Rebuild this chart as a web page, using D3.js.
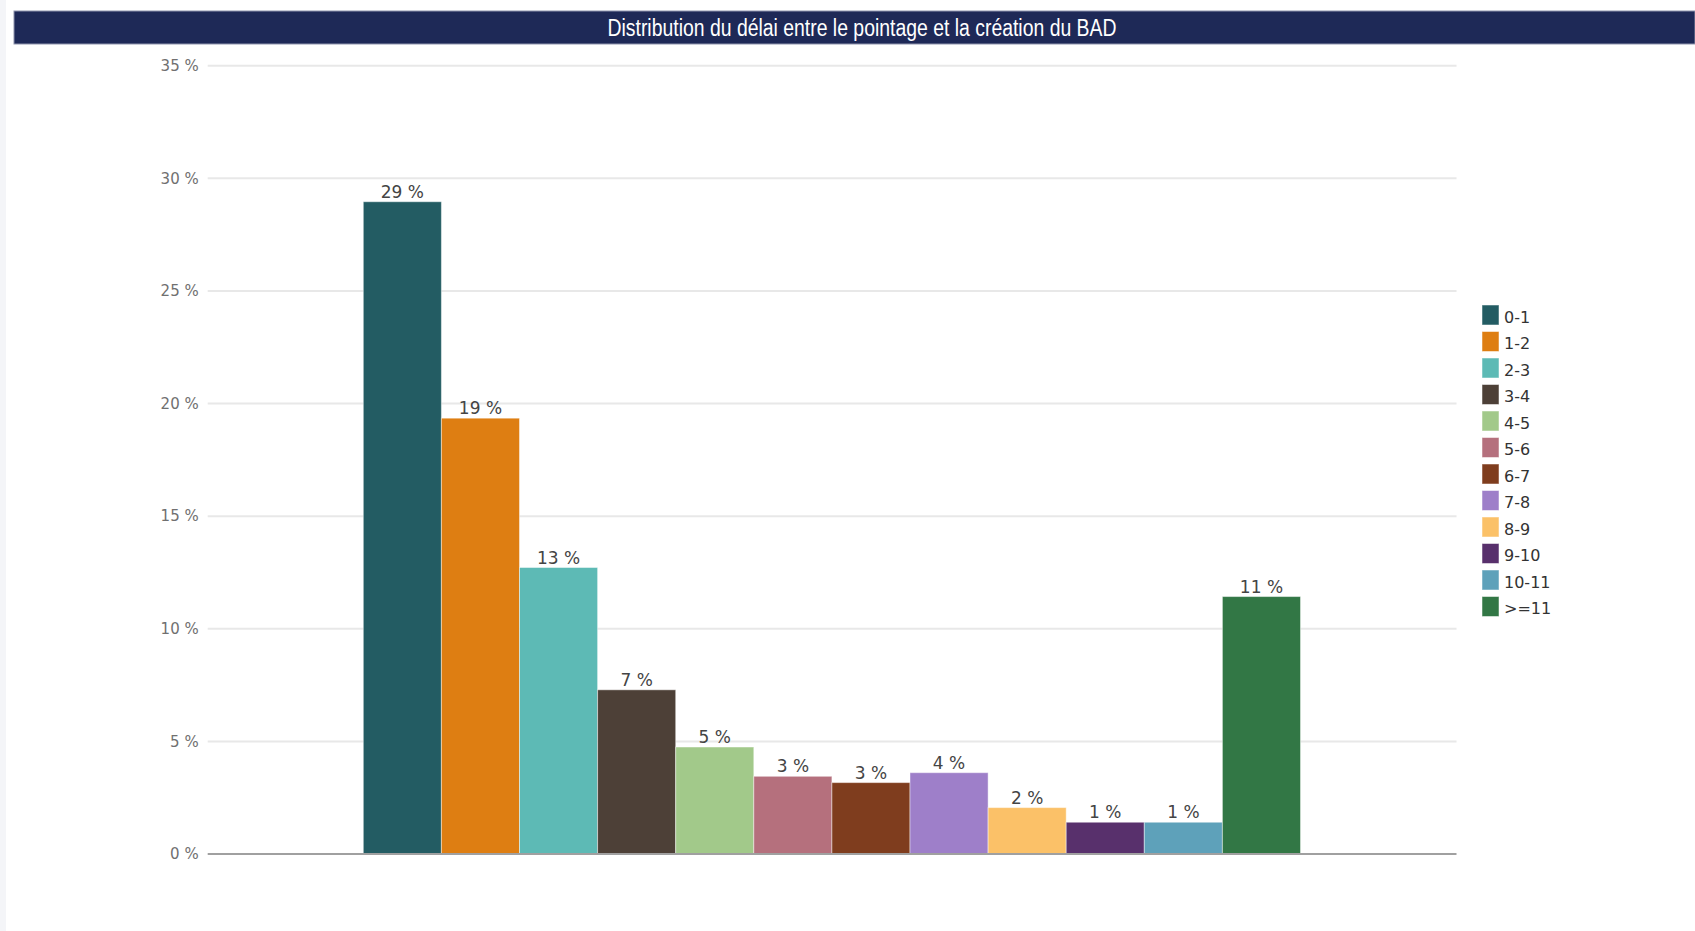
<!DOCTYPE html>
<html>
<head>
<meta charset="utf-8">
<script src="https://cdn.jsdelivr.net/npm/d3@7/dist/d3.min.js"></script>
<style>
  html, body { margin: 0; padding: 0; background: #fff; }
  svg { display: block; }
</style>
</head>
<body>
<svg id="chart" width="1695" height="931"></svg>
<script>
const title = "Distribution du délai entre le pointage et la création du BAD";
const categories = ["0-1", "1-2", "2-3", "3-4", "4-5", "5-6", "6-7", "7-8", "8-9", "9-10", "10-11", ">=11"];
const values = [28.96, 19.35, 12.72, 7.29, 4.75, 3.45, 3.17, 3.61, 2.06, 1.41, 1.41, 11.43];
const colors = ["#235c63", "#de7e12", "#5dbab5", "#4d4037", "#a2c98a", "#b5707d", "#7f3d1e", "#9e7fc9", "#fbc168", "#58306c", "#5ea1ba", "#327745"];
const yTicks = [0, 5, 10, 15, 20, 25, 30, 35];

const svg = d3.select("#chart");

// left page strip
svg.append("rect").attr("x", 0).attr("y", 0).attr("width", 6).attr("height", 931).attr("fill", "#f4f5f8");

// title bar
svg.append("rect").attr("x", 14).attr("y", 11).attr("width", 1695 - 14).attr("height", 33)
  .attr("fill", "#1e2957").attr("stroke", "#8e94ad").attr("stroke-width", 1);
svg.append("text").attr("x", 862).attr("y", 36)
  .attr("text-anchor", "middle")
  .attr("fill", "#fff")
  .attr("font-family", "Liberation Sans Narrow, Liberation Sans, Arial, sans-serif")
  .attr("font-size", 23)
  .attr("textLength", 509).attr("lengthAdjust", "spacingAndGlyphs")
  .text(title);

const plotLeft = 207.7, plotRight = 1456.5;
const y = d3.scaleLinear().domain([0, 35]).range([854, 65.7]);
const x = d3.scaleBand().domain(categories).range([363.3, 1300.5]).padding(0);

// y axis labels
const yAxis = d3.axisLeft(y).tickValues(yTicks).tickSize(0).tickPadding(9).tickFormat(d => d + " %");
const gAxis = svg.append("g").attr("transform", `translate(${plotLeft},0)`).call(yAxis);
gAxis.select(".domain").remove();
gAxis.selectAll("text").attr("font-family", "DejaVu Sans, sans-serif").attr("font-size", 15).attr("fill", "#707070");

// gridlines
svg.append("g").selectAll("line").data(yTicks.filter(d => d > 0)).join("line")
  .attr("x1", plotLeft).attr("x2", plotRight)
  .attr("y1", d => y(d)).attr("y2", d => y(d))
  .attr("stroke", "#e8e8e8").attr("stroke-width", 2);

// bars
svg.append("g").selectAll("rect").data(values).join("rect")
  .attr("x", (d, i) => x(categories[i]))
  .attr("y", d => y(d))
  .attr("width", x.bandwidth())
  .attr("height", d => y(0) - y(d))
  .attr("fill", (d, i) => colors[i])
  .attr("stroke", "rgba(255,255,255,0.45)").attr("stroke-width", 1);

// value labels
svg.append("g").selectAll("text").data(values).join("text")
  .attr("x", (d, i) => x(categories[i]) + x.bandwidth() / 2)
  .attr("y", d => y(d) - 4)
  .attr("text-anchor", "middle")
  .attr("font-family", "DejaVu Sans, sans-serif")
  .attr("font-size", 17)
  .attr("fill", "#444")
  .text(d => Math.round(d) + " %");

// baseline axis
svg.append("line").attr("x1", plotLeft).attr("x2", plotRight).attr("y1", y(0)).attr("y2", y(0))
  .attr("stroke", "#a0a0a0").attr("stroke-width", 2);

// legend
const legend = svg.append("g").attr("transform", "translate(1482,305)");
const items = legend.selectAll("g").data(categories).join("g")
  .attr("transform", (d, i) => `translate(0,${i * 26.5})`);
items.append("rect").attr("width", 17).attr("height", 20).attr("fill", (d, i) => colors[i])
  .attr("stroke", "rgba(255,255,255,0.5)").attr("stroke-width", 1);
items.append("text").attr("x", 22).attr("y", 12).attr("dy", "0.35em")
  .attr("font-family", "DejaVu Sans, sans-serif").attr("font-size", 16).attr("fill", "#333")
  .text(d => d);
</script>
</body>
</html>
